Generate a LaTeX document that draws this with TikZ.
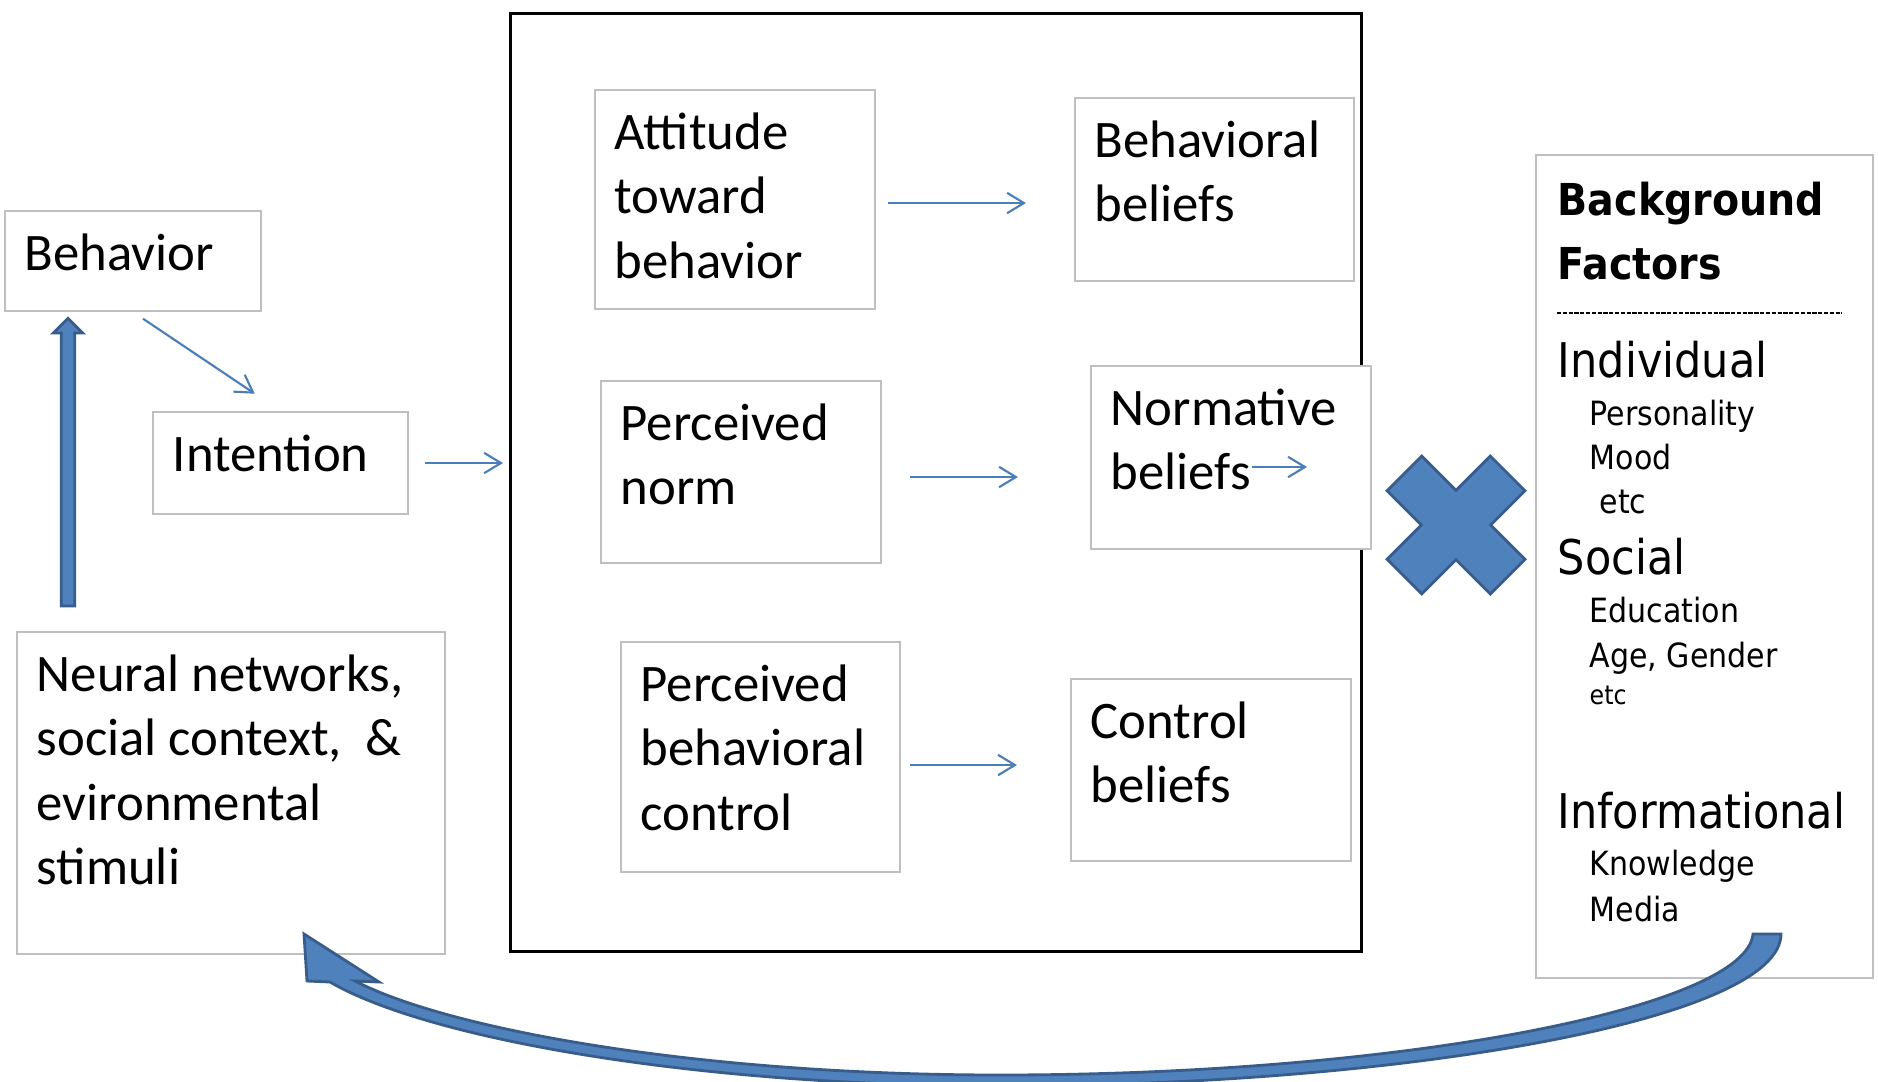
\documentclass[tikz,border=0pt]{standalone}
\usepackage{fontspec}
\setmainfont{Carlito}
\newfontfamily\bgfont[FakeStretch=0.9]{DejaVu Sans}
\usetikzlibrary{arrows.meta,positioning}
\definecolor{boxgray}{HTML}{BFBFBF}
\definecolor{linkblue}{HTML}{4A7EBB}
\definecolor{fillblue}{HTML}{4F81BD}
\definecolor{edgeblue}{HTML}{385D8A}

\begin{document}
\begin{tikzpicture}[x=0.01cm, y=-0.01cm, >={Straight Barb[length=4.8pt,width=5.8pt]},
        box/.style={draw=boxgray, line width=0.55pt, fill=white, anchor=north west, inner sep=0},
        lbl/.style={anchor=north west, inner sep=0, align=left, font=\fontsize{15}{18.3}\selectfont, xshift=0.2cm, yshift=-0.147cm},
        link/.style={->, draw=linkblue, line width=0.6pt},
        block/.style={fill=fillblue, draw=edgeblue, line width=0.8pt},
        bghead/.style={anchor=base west, inner sep=0, font=\bgfont\bfseries\fontsize{12.5}{15}\selectfont},
        bgmain/.style={anchor=base west, inner sep=0, font=\bgfont\fontsize{13.6}{16}\selectfont},
        bgitem/.style={anchor=base west, inner sep=0, font=\bgfont\fontsize{9.5}{11}\selectfont}]
    \useasboundingbox (0,0) rectangle (1878,1081);

    % theory of planned behavior frame
    \node[draw, line width=0.9pt, anchor=north west, inner sep=0, minimum width=8.5cm, minimum height=9.37cm] (tpb) at (509,12) {};

    % left column
    \node[box, minimum width=2.56cm, minimum height=1cm] (beh) at (4,210) {};
    \node[box, minimum width=2.55cm, minimum height=1.02cm] (int) at (152,411) {};
    \node[box, minimum width=4.28cm, minimum height=3.22cm] (neu) at (16,631) {};
    \node[lbl] (beh-t) at (beh.north west) {\strut Behavior};
    \node[lbl] (int-t) at (int.north west) {\strut Intention};
    \node[lbl] (neu-t) at (neu.north west) {\strut Neural networks,\\social context,~ \&\\evironmental\\stimuli};

    % inside the frame
    \node[box, minimum width=2.8cm, minimum height=2.19cm] (att) at (594,89) {};
    \node[box, minimum width=2.79cm, minimum height=1.83cm] (bb) at (1074,97) {};
    \node[box, minimum width=2.8cm, minimum height=1.82cm] (pn) at (600,380) {};
    \node[box, minimum width=2.8cm, minimum height=1.83cm] (nb) at (1090,365) {};
    \node[box, minimum width=2.79cm, minimum height=2.3cm] (pbc) at (620,641) {};
    \node[box, minimum width=2.8cm, minimum height=1.82cm] (cb) at (1070,678) {};
    \node[lbl] (att-t) at (att.north west) {\strut Attitude\\toward\\behavior};
    \node[lbl] (bb-t) at (bb.north west) {\strut Behavioral\\beliefs};
    \node[lbl] (pn-t) at (pn.north west) {\strut Perceived\\norm};
    \node[lbl] (nb-t) at (nb.north west) {\strut Normative\\beliefs};
    \node[lbl] (pbc-t) at (pbc.north west) {\strut Perceived\\behavioral\\control};
    \node[lbl] (cb-t) at (cb.north west) {\strut Control\\beliefs};

    % background factors
    \node[box, minimum width=3.37cm, minimum height=8.23cm] (bf) at (1535,154) {};
    \node[bghead] (bf-1) at (1557,215.6) {Background};
    \node[bghead] (bf-2) at (1557,279) {Factors};
    \draw[line width=0.55pt, dash pattern=on 1.2pt off 0.45pt] (1557,312.6) -- (1842,312.6);
    \node[bgmain] (ind) at (1557,377.3) {Individual};
    \node[bgitem] (ind-1) at (1589,425.2) {Personality};
    \node[bgitem] (ind-2) at (1589,469.5) {Mood};
    \node[bgitem] (ind-3) at (1599,513.8) {etc};
    \node[bgmain] (soc) at (1557,574.9) {Social};
    \node[bgitem] (soc-1) at (1589,622.8) {Education};
    \node[bgitem] (soc-2) at (1589,667.1) {Age, Gender};
    \node[bgitem, font=\bgfont\fontsize{7.5}{9}\selectfont] (soc-3) at (1589,704.2) {etc};
    \node[bgmain] (inf) at (1557,828.8) {Informational};
    \node[bgitem] (inf-1) at (1589,875.5) {Knowledge};
    \node[bgitem] (inf-2) at (1589,921) {Media};

    % thin arrows
    \draw[link, shorten <=0.12cm, shorten >=0.31cm] (beh.south) -- (int.north);
    \draw[link, shorten <=0.16cm, shorten >=0.06cm] (int.east) -- (int.east -| tpb.west);
    \draw[link, shorten <=0.12cm, shorten >=0.48cm] ([yshift=-0.035cm]att.east) -- ([yshift=-0.035cm]att.east -| bb.west);
    \draw[link, shorten <=0.28cm, shorten >=0.72cm] ([yshift=-0.05cm]pn.east) -- ([yshift=-0.05cm]pn.east -| nb.west);
    \draw[link, shorten <=0.09cm, shorten >=0.53cm] ([yshift=-0.08cm]pbc.east) -- ([yshift=-0.08cm]pbc.east -| cb.west);
    \coordinate (nb-s) at (1252,467);
    \coordinate (nb-e) at (1307,467);
    \draw[link] (nb-s) -- (nb-e);

    % block arrows
    \coordinate (up-s) at (68,606);
    \draw[block] (up-s) ++(-6.7,0) -- ++(0,-273) -- ++(-8,0) -- ++(14.7,-14.7) -- ++(14.7,14.7) -- ++(-8,0) -- ++(0,273) -- cycle;
    \draw[block, shift={(1456,525)}, rotate=45] (24.5,24.5) -- (73,24.5) -- (73,-24.5) -- (24.5,-24.5) -- (24.5,-73) -- (-24.5,-73) -- (-24.5,-24.5) -- (-73,-24.5) -- (-73,24.5) -- (-24.5,24.5) -- (-24.5,73) -- (24.5,73) -- cycle;
    \draw[block] (304,934) -- (307,981) -- (330,982) .. controls (430,1040) and (700,1086) .. (1000,1086) .. controls (1400,1086) and (1781,1020) .. (1781,934) -- (1753,934) .. controls (1746,1008) and (1400,1075) .. (1000,1075) .. controls (700,1075) and (450,1030) .. (355,981) -- (379,982) -- cycle;
\end{tikzpicture}
\end{document}
